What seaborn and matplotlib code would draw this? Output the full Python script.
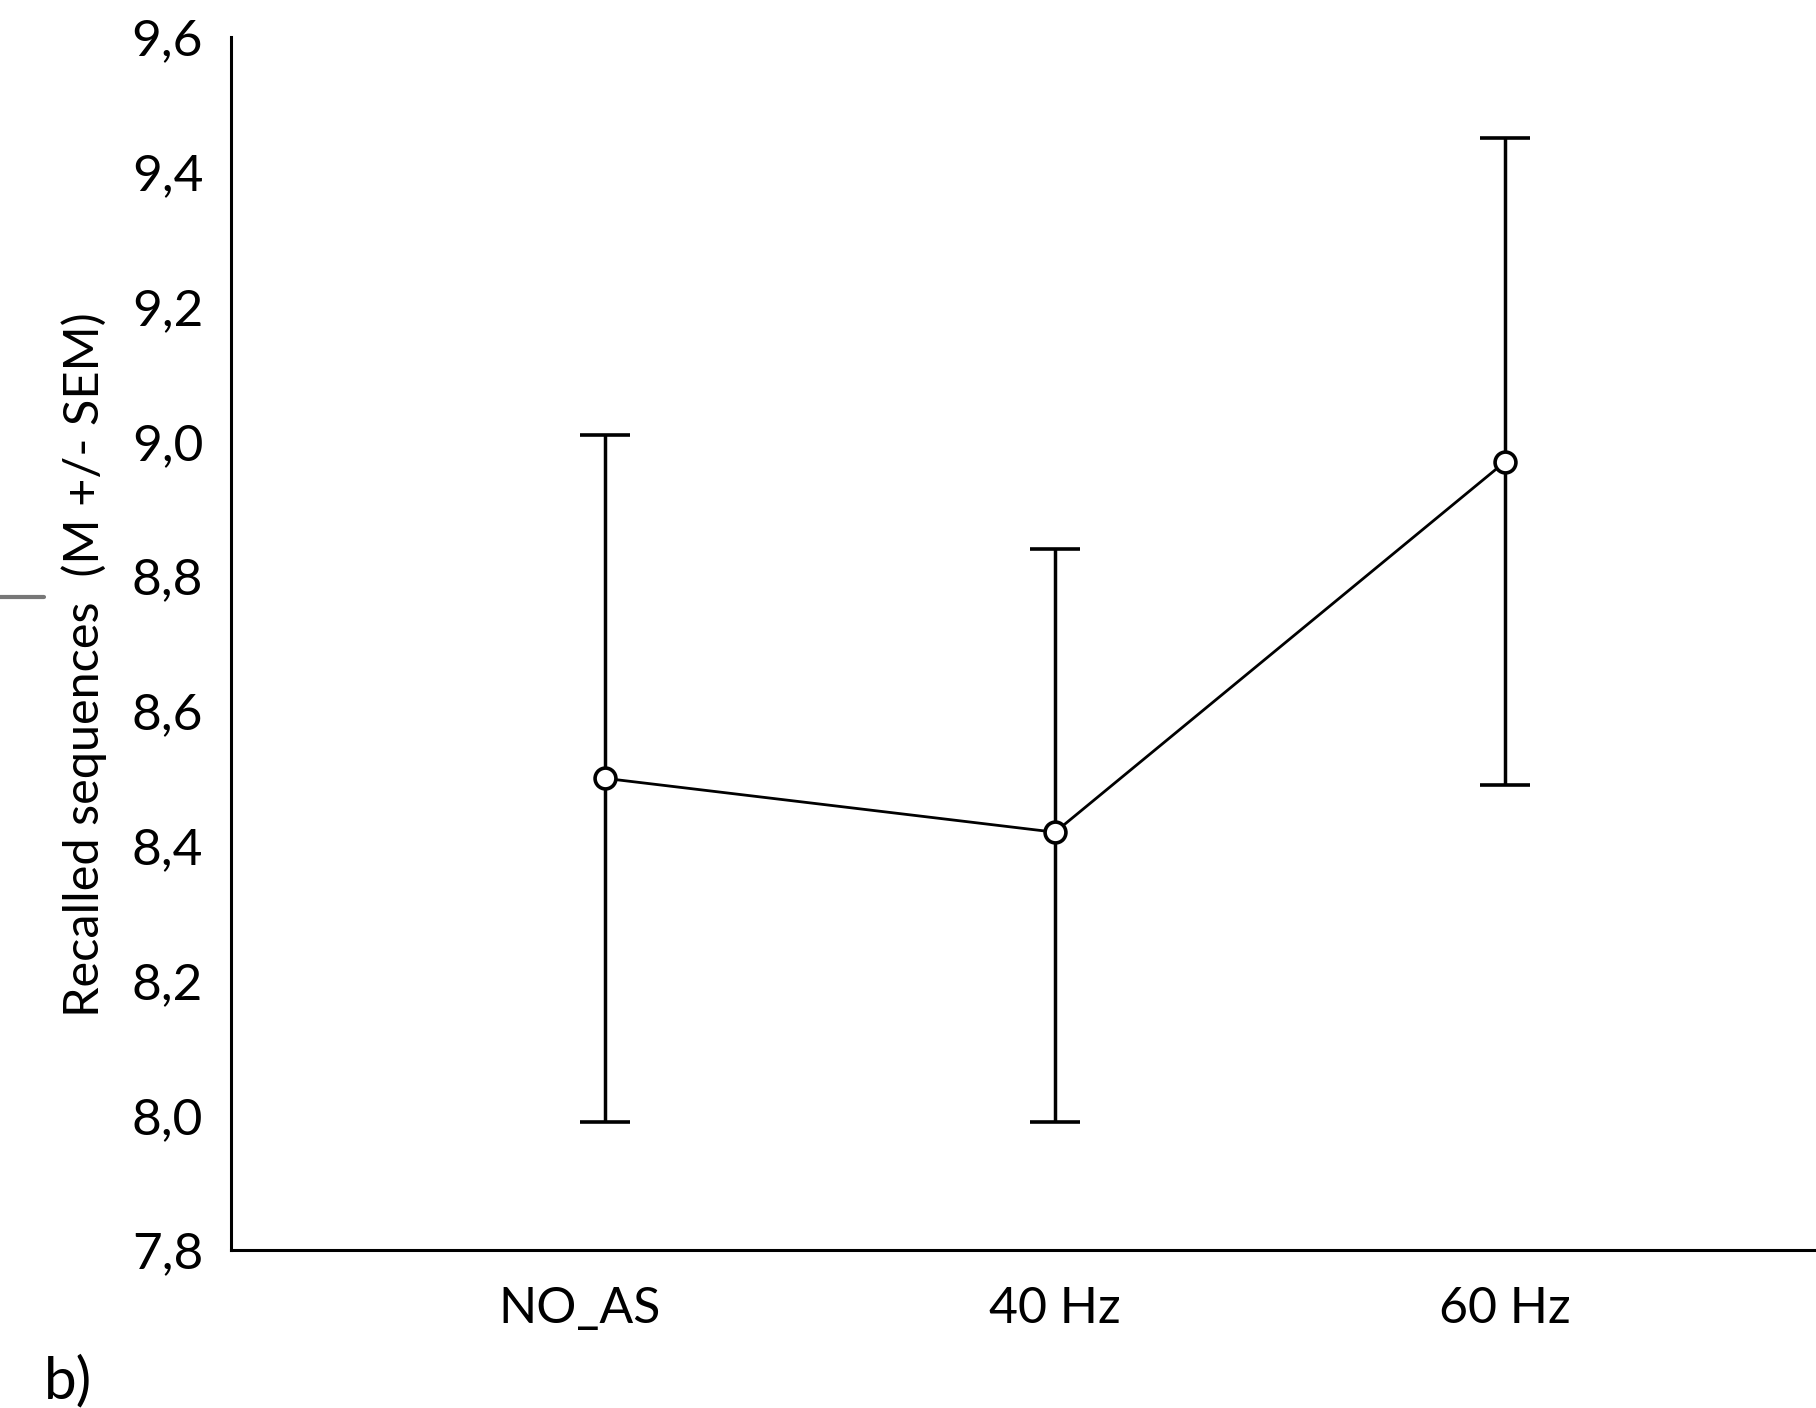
import matplotlib
matplotlib.use("Agg")
import matplotlib.pyplot as plt
from matplotlib.lines import Line2D
from matplotlib.transforms import ScaledTranslation
import seaborn as sns
import pandas as pd

# Recalled sequences per stimulation condition (mean and SEM)
conditions = ["NO_AS", "40 Hz", "60 Hz"]
means = [8.50, 8.42, 8.97]
sem_low = [0.51, 0.43, 0.48]
sem_high = [0.51, 0.42, 0.48]
y_ticks = [7.8, 8.0, 8.2, 8.4, 8.6, 8.8, 9.0, 9.2, 9.4, 9.6]
y_tick_labels = ["7,8", "8,0", "8,2", "8,4", "8,6", "8,8", "9,0", "9,2", "9,4", "9,6"]

sns.set_theme(style="white")
plt.rcParams["font.family"] = ["Lato", "DejaVu Sans"]

df = pd.DataFrame({"condition": conditions, "mean": means})

fig = plt.figure(figsize=(18.16, 14.08), dpi=100)
ax = fig.add_axes([0.1272, 0.1122, 0.8728, 0.8615])

# SEM whiskers with caps
ax.errorbar(range(len(conditions)), means, yerr=[sem_low, sem_high],
            fmt="none", ecolor="black", elinewidth=2.5, capsize=18,
            capthick=2.6, zorder=2)

# Means joined by a line, open circle markers
sns.pointplot(data=df, x="condition", y="mean", errorbar=None, color="black",
              markers="o", linestyles="-", ax=ax,
              markersize=15, markeredgewidth=2.6, markerfacecolor="white",
              linewidth=2.0, zorder=3)
for line in ax.lines:
    line.set_markerfacecolor("white")
    line.set_markeredgecolor("black")

ax.set_xlim(-0.83, 2.69)
ax.set_ylim(7.8, 9.6)
ax.set_yticks(y_ticks)
ax.set_yticklabels(y_tick_labels)
ax.tick_params(axis="y", length=0, pad=20, labelsize=37, labelcolor="black")
ax.tick_params(axis="x", length=0, pad=26, labelsize=36, labelcolor="black")
ax.set_xlabel("")
ax.set_ylabel("Recalled sequences  (M +/- SEM)", fontsize=35, color="black")
ax.yaxis.set_label_coords(-0.078, 0.483)

# first category label sits a little left of its point
first = ax.get_xticklabels()[0]
first.set_transform(first.get_transform() + ScaledTranslation(-0.25, 0, fig.dpi_scale_trans))

for side in ["top", "right"]:
    ax.spines[side].set_visible(False)
for side in ["left", "bottom"]:
    ax.spines[side].set_color("black")
    ax.spines[side].set_linewidth(2.2)

# Short grey rule at the left margin
fig.add_artist(Line2D([0.0, 0.024], [0.576, 0.576], transform=fig.transFigure,
                      color="#777777", linewidth=3))

# Panel letter
fig.text(0.024, 0.0, "b)", fontsize=42, color="black", ha="left", va="bottom")

fig.savefig("out.png", dpi=100, facecolor="white")
